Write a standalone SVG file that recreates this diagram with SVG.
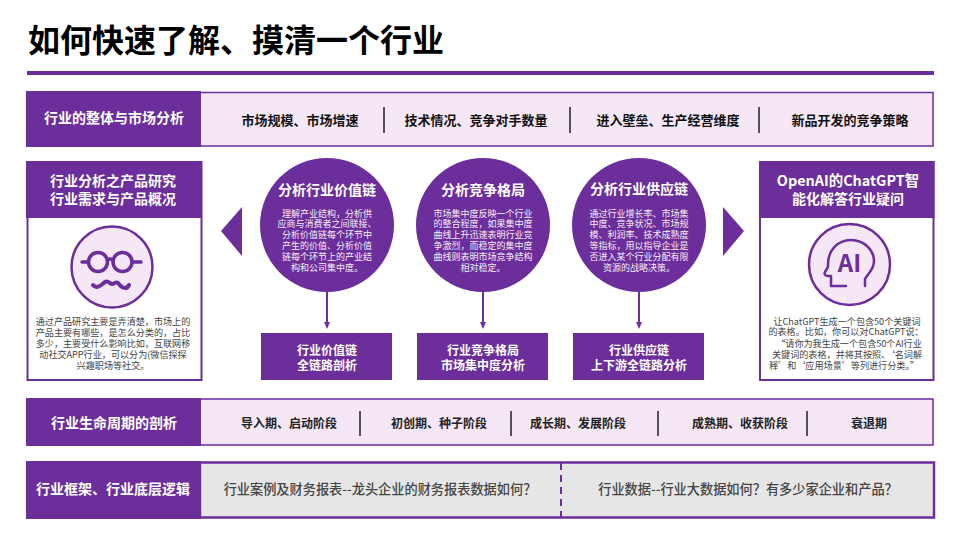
<svg xmlns="http://www.w3.org/2000/svg" width="960" height="540" viewBox="0 0 960 540">
<style>
text{font-family:"Noto Sans CJK SC","Noto Sans",sans-serif;text-anchor:middle}
.p{fill:#6b2e9b}
.w{fill:#fff;font-weight:700}
.h{font-size:14px;fill:#fff;font-weight:700}
.t{font-size:12px}
.s{font-size:9px;fill:#f8eefa}
.d{font-size:9.1px;fill:#444}
.k{font-size:13px;font-weight:700;fill:#111}
.m{font-size:12px;font-weight:700;fill:#222}
.g{font-size:13.200px;font-weight:500;fill:#444}
.b{fill:#f5e7f6;stroke:#6b2e9b;stroke-width:1.5}
.sep{stroke:#222;stroke-width:1.5}
.ico{fill:none;stroke:#6b2e9b;stroke-linecap:round;stroke-linejoin:round}
</style>
<defs><marker id="a" markerWidth="7" markerHeight="6" refX="4" refY="3" orient="auto" markerUnits="userSpaceOnUse"><path d="M0 0L7 3L0 6Z" fill="#6b2e9b"/></marker></defs>
<rect width="960" height="540" fill="#fff"/>
<g id="title"><text x="236" y="52" style="font-size:32px;font-weight:700;fill:#000">如何快速了解、摸清一个行业</text><rect x="27" y="71" width="907" height="4" class="p"/></g>

<g id="row1">
<rect x="200" y="92.500" width="733" height="53.500" class="b"/>
<rect x="26" y="91" width="175" height="56" class="p"/>
<text x="114" y="123" class="w" style="font-size:14px">行业的整体与市场分析</text>
<text x="300" y="125" class="k">市场规模、市场增速</text>
<text x="476" y="125" class="k">技术情况、竞争对手数量</text>
<text x="668" y="125" class="k">进入壁垒、生产经营维度</text>
<text x="850" y="125" class="k">新品开发的竞争策略</text>
<path class="sep" d="M384 107V133M570 107V133M759 107V133"/>
</g>

<g id="left-card">
<rect x="27.500" y="162" width="174" height="218" fill="#fff" stroke="#6b2e9b" stroke-width="2"/>
<rect x="26" y="161" width="175.500" height="57" class="p"/>
<text x="113" y="186" class="w" style="font-size:14px">行业分析之产品研究</text>
<text x="113" y="204" class="w" style="font-size:14px">行业需求与产品概况</text>
<circle cx="112" cy="267" r="40.500" fill="#f5e7f6" stroke="#6b2e9b" stroke-width="2.500"/>
<g class="ico" stroke-width="3.500"><circle cx="98" cy="262" r="9.500"/><circle cx="122.500" cy="262" r="9.500"/><path d="M107.500 260Q110 258 113 260M82 262H88M132 262H141"/><path stroke-width="4" d="M93 285C97 290 102 284 105 282C108 280 110 284 112 284C114 284 116 281 118 283C121 287 126 291 129 285"/></g>
<text x="113" y="325" class="d">通过产品研究主要是弄清楚，市场上的</text>
<text x="113" y="336" class="d">产品主要有哪些，是怎么分类的，占比</text>
<text x="113" y="346.500" class="d">多少，主要受什么影响比如，互联网移</text>
<text x="113" y="358" class="d">动社交APP行业，可以分为(微信探探</text>
<text x="113" y="369" class="d">兴趣职场等社交。</text>
</g>

<g id="arrow-left"><path d="M242 207V256L221 231Z" class="p"/></g>
<g id="arrow-right"><path d="M723 207V256L744 231Z" class="p"/></g>

<g id="connectors" stroke="#6b2e9b" stroke-width="2" fill="none">
<path d="M327 291V326" marker-end="url(#a)"/>
<path d="M483 291V326" marker-end="url(#a)"/>
<path d="M639 291V326" marker-end="url(#a)"/>
</g>

<g id="circle1"><circle cx="327" cy="225" r="67" class="p"/>
<text x="327" y="195" class="h">分析行业价值链</text>
<text x="327" y="217" class="s">理解产业结构，分析供</text>
<text x="327" y="227" class="s">应商与消费者之间联接、</text>
<text x="327" y="238" class="s">分析价值链每个环节中</text>
<text x="327" y="249" class="s">产生的价值、分析价值</text>
<text x="327" y="260" class="s">链每个环节上的产业结</text>
<text x="327" y="271" class="s">构和公司集中度。</text></g>
<g id="circle2"><circle cx="483" cy="225" r="67" class="p"/>
<text x="483" y="195" class="h">分析竞争格局</text>
<text x="483" y="217" class="s">市场集中度反映一个行业</text>
<text x="483" y="227" class="s">的整合程度，如果集中度</text>
<text x="483" y="238" class="s">曲线上升迅速表明行业竞</text>
<text x="483" y="249" class="s">争激烈，而稳定的集中度</text>
<text x="483" y="260" class="s">曲线则表明市场竞争结构</text>
<text x="483" y="271" class="s">相对稳定。</text></g>
<g id="circle3"><circle cx="639" cy="225" r="67" class="p"/>
<text x="639" y="194" class="h">分析行业供应链</text>
<text x="639" y="217" class="s">通过行业增长率、市场集</text>
<text x="639" y="227" class="s">中度、竞争状况、市场规</text>
<text x="639" y="238" class="s">模、利润率、技术成熟度</text>
<text x="639" y="249" class="s">等指标，用以指导企业是</text>
<text x="639" y="260" class="s">否进入某个行业分配有限</text>
<text x="639" y="271" class="s">资源的战略决策。</text></g>

<g id="box1"><rect x="261" y="333" width="131" height="47" class="p"/><text x="327" y="355" class="w t">行业价值链</text><text x="327" y="370" class="w t">全链路剖析</text></g>
<g id="box2"><rect x="417" y="333" width="131" height="47" class="p"/><text x="483" y="355" class="w t">行业竞争格局</text><text x="483" y="370" class="w t">市场集中度分析</text></g>
<g id="box3"><rect x="573" y="333" width="131" height="47" class="p"/><text x="639" y="355" class="w t">行业供应链</text><text x="639" y="370" class="w t">上下游全链路分析</text></g>

<g id="right-card">
<rect x="760" y="162" width="173.500" height="218" fill="#fff" stroke="#6b2e9b" stroke-width="2"/>
<rect x="759" y="161" width="175.500" height="57" class="p"/>
<text x="848" y="186" class="w" style="font-size:14.400px">OpenAI的ChatGPT智</text>
<text x="848" y="204" class="w" style="font-size:14px">能化解答行业疑问</text>
<circle cx="849.500" cy="264.500" r="40.500" fill="#f5e7f6" stroke="#6b2e9b" stroke-width="2.500"/>
<path class="ico" stroke-width="2.500" d="M846 286H831V276H828C825 276 824 274 825 272L828 267C827 250 838 240 851 240C864 240 874 250 874 261C874 270 868 273 865 279V286"/>
<text x="849.500" y="272" style="font-size:24px;font-weight:700;fill:#6b2e9b">AI</text>
<text x="847" y="325" class="d">让ChatGPT生成一个包含50个关键词</text>
<text x="846" y="335" class="d">的表格。比如，你可以对ChatGPT说：</text>
<text x="849" y="347" class="d">“请你为我生成一个包含50个AI行业</text>
<text x="847" y="358" class="d">关键词的表格，并将其按照、‘名词解</text>
<text x="844" y="369" class="d">释’和‘应用场景’等列进行分类。”</text>
</g>

<g id="row3">
<rect x="200" y="399" width="733" height="46" class="b"/>
<rect x="26" y="398" width="175" height="48" class="p"/>
<text x="114" y="428" class="w" style="font-size:14px">行业生命周期的剖析</text>
<text x="289" y="428" class="m">导入期、启动阶段</text>
<text x="439" y="428" class="m">初创期、种子阶段</text>
<text x="578" y="428" class="m">成长期、发展阶段</text>
<text x="740" y="428" class="m">成熟期、收获阶段</text>
<text x="869" y="428" class="m">衰退期</text>
<path class="sep" d="M360 411V436M511 411V436M658 411V436M807 411V436"/>
</g>

<g id="row4">
<rect x="200" y="462.500" width="734" height="55" fill="#e6e6e6" stroke="#6b2e9b" stroke-width="2.500"/>
<rect x="26" y="461" width="175" height="58" class="p"/>
<text x="113" y="494" class="w" style="font-size:14px">行业框架、行业底层逻辑</text>
<text x="380" y="494" class="g">行业案例及财务报表--龙头企业的财务报表数据如何？</text>
<text x="748" y="494" class="g">行业数据--行业大数据如何？有多少家企业和产品？</text>
<path d="M561 463V517" stroke="#6b2e9b" stroke-width="2" stroke-dasharray="7 5" fill="none"/>
</g>
</svg>
